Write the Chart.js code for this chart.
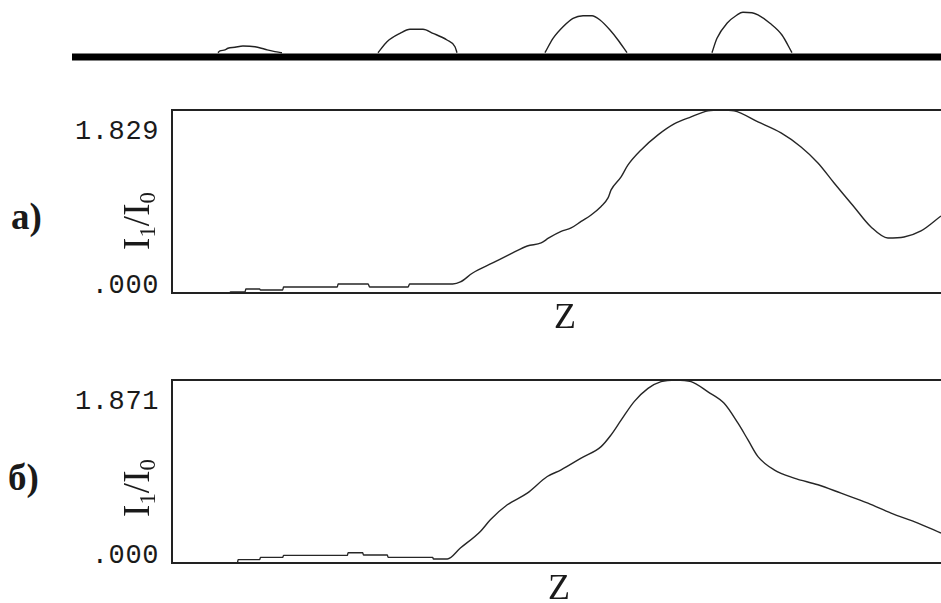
<!DOCTYPE html>
<html lang="ru">
<head>
<meta charset="utf-8">
<title>I1/I0 (Z)</title>
<script src="https://cdn.jsdelivr.net/npm/chart.js@4.4.1/dist/chart.umd.min.js"></script>
<style>
  html, body { margin: 0; padding: 0; background: #fff; overflow: hidden; }
  #page { position: relative; width: 941px; height: 603px; background: #fff; }
  canvas { position: absolute; }
  .txt { position: absolute; transform: translate(-50%, -50%); white-space: nowrap; color: #1a1a1a; line-height: 1; }
  .tick { font-family: "Liberation Mono", "DejaVu Sans Mono", monospace; font-size: 27px; letter-spacing: 0.6px; transform: translate(-100%, -50%); }
  .lettre { font-family: "Liberation Serif", serif; font-weight: bold; font-size: 37px; transform: translate(0, -50%); }
  .ylab { font-family: "Liberation Serif", serif; font-size: 37px; transform: translate(-50%, -50%) rotate(-90deg); }
  .ylab sub { font-size: 0.62em; vertical-align: -0.25em; }
  .zlab { font-family: "Liberation Serif", serif; font-size: 36px; }
</style>
</head>
<body>
<div id="page">
  <canvas id="schema" width="869" height="80" style="left:72px;top:0px"></canvas>
  <canvas id="chartA" width="781" height="205" style="left:160px;top:100px"></canvas>
  <canvas id="chartB" width="781" height="205" style="left:160px;top:370px"></canvas>

  <div class="txt tick" style="left:159px;top:132px">1.829</div>
  <div class="txt tick" style="left:159px;top:286px">.000</div>
  <div class="txt lettre" style="left:11px;top:216px">a)</div>
  <div class="txt ylab" style="left:139px;top:221px">I<sub>1</sub>/I<sub>0</sub></div>
  <div class="txt zlab" style="left:565px;top:316px">Z</div>

  <div class="txt tick" style="left:159px;top:402px">1.871</div>
  <div class="txt tick" style="left:159px;top:556px">.000</div>
  <div class="txt lettre" style="left:8px;top:477px">б)</div>
  <div class="txt ylab" style="left:139px;top:488px">I<sub>1</sub>/I<sub>0</sub></div>
  <div class="txt zlab" style="left:559px;top:587px">Z</div>
</div>

<script>
// Données (Z en unités arbitraires 0..100)
const zA = [4.3, 7.5, 7.6, 9.5, 9.6, 11.4, 11.5, 14.4, 14.5, 21.5, 21.6, 25.5, 25.7, 30.7, 30.9, 36.5,
  37.5, 39.1, 41.7, 44.3, 46.2, 48.0, 49.0, 50.6, 51.9, 53.2, 54.5, 55.8, 56.7, 57.1, 58.4, 59.3,
  61.0, 63.2, 65.3, 67.5, 69.7, 71.4, 73.1, 76.2, 79.2, 81.8, 84.0, 86.1, 88.7, 90.9, 93.1, 95.2, 97.4, 100];
const iA = [0, 0, 0.01, 0.01, 0.04, 0.04, 0.03, 0.03, 0.06, 0.06, 0.09, 0.09, 0.06, 0.06, 0.09, 0.09,
  0.11, 0.20, 0.30, 0.40, 0.47, 0.50, 0.55, 0.615, 0.65, 0.715, 0.78, 0.865, 0.95, 1.03, 1.16, 1.28,
  1.43, 1.58, 1.69, 1.76, 1.82, 1.829, 1.82, 1.71, 1.60, 1.46, 1.30, 1.10, 0.86, 0.66, 0.55, 0.56, 0.62, 0.77];
const maxA = 1.829;

const zB = [3.4, 8.5, 8.6, 11.4, 11.5, 14.4, 14.5, 22.8, 22.9, 24.8, 24.9, 28.0, 28.1, 33.9, 34.0, 35.8,
  37.5, 40.1, 41.4, 43.6, 46.2, 48.8, 50.6, 53.2, 55.8, 57.1, 58.4, 60.1, 61.9, 63.6, 65.5, 67.5,
  69.7, 71.8, 73.6, 74.9, 76.2, 78.3, 80.9, 84.0, 87.0, 90.5, 93.5, 97.0, 100];
const iB = [0, 0, 0.034, 0.034, 0.057, 0.057, 0.078, 0.078, 0.105, 0.105, 0.082, 0.082, 0.057, 0.057, 0.041, 0.041,
  0.153, 0.323, 0.442, 0.595, 0.714, 0.884, 0.952, 1.072, 1.19, 1.31, 1.46, 1.65, 1.786, 1.854, 1.871, 1.854,
  1.75, 1.633, 1.429, 1.259, 1.088, 0.952, 0.868, 0.80, 0.714, 0.612, 0.51, 0.408, 0.306];
const maxB = 1.871;

// Schéma de la structure (ligne + 4 lobes, amplitude relative)
const zLigne = [-13, 100];
const bosses = [
  { z: [5.98, 6.24, 6.89, 7.28, 8.19, 9.23, 10.79, 12.09, 13.39, 14.30],
    a: [0.096, 0.134, 0.157, 0.195, 0.217, 0.246, 0.230, 0.172, 0.119, 0.096] },
  { z: [26.79, 27.96, 29.65, 30.95, 32.64, 33.94, 35.76, 36.80, 37.06],
    a: [0.096, 0.342, 0.530, 0.620, 0.620, 0.530, 0.380, 0.230, 0.096] },
  { z: [48.50, 49.55, 50.85, 52.15, 53.45, 54.62, 55.66, 56.96, 58.00, 59.17],
    a: [0.096, 0.418, 0.678, 0.866, 0.924, 0.924, 0.828, 0.604, 0.380, 0.096] },
  { z: [70.22, 70.87, 72.17, 73.47, 74.25, 75.42, 76.20, 77.76, 79.32, 80.62],
    a: [0.096, 0.418, 0.754, 0.940, 1.000, 0.991, 0.940, 0.754, 0.492, 0.096] }
];

const toXY = (xs, ys) => xs.map((x, i) => ({ x: x, y: ys[i] }));

// Cadre des graphes (haut, gauche, bas)
const cadre = {
  id: 'cadre',
  afterDraw(chart) {
    const { ctx, chartArea: a } = chart;
    ctx.save();
    ctx.strokeStyle = '#222';
    ctx.lineWidth = 2;
    ctx.beginPath();
    ctx.moveTo(a.right + 2, a.top);
    ctx.lineTo(a.left, a.top);
    ctx.lineTo(a.left, a.bottom);
    ctx.lineTo(a.right + 2, a.bottom);
    ctx.stroke();
    ctx.restore();
  }
};

function panneau(id, z, vals, ymax) {
  return new Chart(document.getElementById(id), {
    type: 'line',
    data: {
      datasets: [{
        data: toXY(z, vals),
        borderColor: '#262626',
        borderWidth: 1.4,
        pointRadius: 0,
        cubicInterpolationMode: 'monotone',
        fill: false
      }]
    },
    options: {
      responsive: false,
      animation: false,
      layout: { padding: { left: 12, top: 10, right: 0, bottom: 12 } },
      scales: {
        x: { type: 'linear', min: 0, max: 100, display: false },
        y: { min: 0, max: ymax, display: false }
      },
      plugins: { legend: { display: false }, tooltip: { enabled: false } }
    },
    plugins: [cadre]
  });
}

panneau('chartA', zA, iA, maxA);
panneau('chartB', zB, iB, maxB);

// Schéma en haut
const dsSchema = [{
  data: toXY(zLigne, [0, 0]),
  borderColor: '#000',
  borderWidth: 7,
  pointRadius: 0,
  borderCapStyle: 'butt'
}];
bosses.forEach(b => {
  dsSchema.push({
    data: toXY(b.z, b.a),
    borderColor: '#222',
    borderWidth: 1.4,
    pointRadius: 0,
    cubicInterpolationMode: 'monotone'
  });
});

new Chart(document.getElementById('schema'), {
  type: 'line',
  data: { datasets: dsSchema },
  options: {
    responsive: false,
    animation: false,
    layout: { padding: 0 },
    scales: {
      x: { type: 'linear', min: -13, max: 100, display: false },
      y: { min: -0.515, max: 1.275, display: false }
    },
    plugins: { legend: { display: false }, tooltip: { enabled: false } }
  }
});
</script>
</body>
</html>
